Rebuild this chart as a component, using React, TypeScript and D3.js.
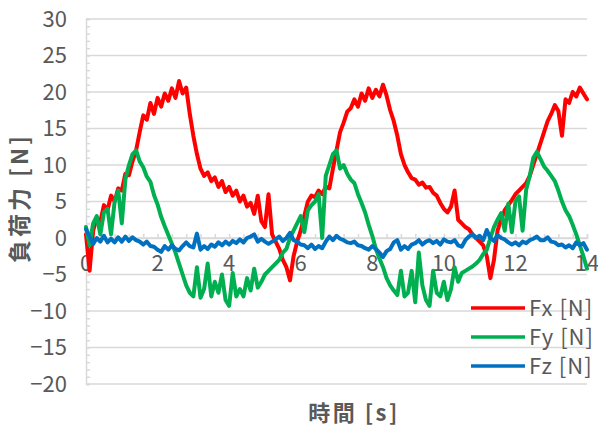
import { useRef, useEffect } from "react";
import * as d3 from "d3";

// sampled every 0.1 s, from 0 to 14 s
const step = 0.1;

const fx = [
  0.5, -4.5, 1.0, 2.8, 2.2, 4.5, 3.8, 5.8, 5.0, 6.8,
  6.5, 8.8, 8.6, 10.5, 12.0, 14.5, 16.8, 16.2, 18.5, 17.0,
  19.2, 18.0, 19.8, 18.8, 20.5, 19.2, 21.5, 19.8, 20.6, 17.0,
  14.0, 11.5, 9.5, 8.5, 9.0, 7.8, 8.3, 7.0, 7.8, 6.3,
  7.0, 5.8, 6.5, 5.0, 5.8, 4.3, 4.8, 3.3, 5.8, 2.3,
  1.5, 6.0, 0.5, -0.5, -1.5, -3.0, -4.0, -5.8, -2.5, -0.5,
  1.0, 3.0, 5.0, 5.8, 5.6, 6.5, 6.0, 7.0, 6.8, 9.5,
  12.0, 14.5, 15.8, 17.3, 17.8, 19.0, 18.0, 19.8, 18.8, 20.5,
  19.2, 20.3, 19.4, 21.0, 19.5, 17.5, 16.0, 14.0, 11.5, 10.0,
  9.0, 8.2, 8.0, 7.3, 7.6, 6.9, 7.0, 6.2, 5.8, 4.8,
  4.0, 3.5, 4.3, 6.5, 2.5, 2.0, 1.5, 1.2, 0.5, 0.0,
  -0.5, -1.0, -2.5, -5.5, -3.0, 1.0, 2.5, 3.8, 4.5, 5.2,
  6.0, 6.5, 7.0, 7.5, 8.5, 10.0, 11.5, 13.0, 14.5, 16.0,
  17.0, 18.2, 17.4, 14.0, 19.0, 18.5, 20.0, 19.4, 20.6, 19.8,
  19.0,
];

const fy = [
  1.5, -1.0, 2.0, 3.0, 0.5, 3.5, 4.0, 0.5, 5.0, 6.5,
  2.0, 8.0, 10.0, 11.5, 12.0, 10.5, 9.7, 8.4, 7.7, 5.9,
  4.6, 2.9, 1.6, 0.4, -0.8, -2.0, -3.5, -5.0, -6.5, -7.5,
  -8.0, -4.0, -8.2, -7.0, -3.5, -8.0, -6.0, -7.5, -5.0, -8.5,
  -9.3, -4.8, -8.0, -7.0, -8.0, -5.5, -7.2, -4.2, -6.8, -6.0,
  -5.0, -4.5, -4.0, -3.5, -3.0, -2.0, -1.5, 0.0, 1.0, 2.0,
  3.0, 0.8, 3.8, 4.5, 5.0, 6.0, 0.0, 8.5, 10.0, 11.5,
  12.0, 9.5, 10.0, 8.8, 8.0, 7.5, 6.0, 4.8, 3.5, 1.8,
  0.3, -1.5, -2.8, -4.0, -5.5, -6.5, -7.2, -7.8, -4.5, -8.0,
  -7.5, -4.5, -8.8, -2.0, -6.5, -8.5, -9.3, -4.5, -7.5, -8.0,
  -6.0, -8.5, -7.0, -4.0, -6.0, -4.8, -4.5, -4.2, -3.9, -3.5,
  -3.0, -2.2, -1.6, 0.0, 1.5, 2.5, 3.4, 1.0, 4.7, 0.8,
  5.0, 5.7, 1.0, 6.6, 8.5, 11.0, 11.8, 10.8, 9.8, 9.2,
  8.5, 7.8, 6.5, 5.0, 3.8, 3.0, 1.8, 0.5, -1.0, -2.5,
  -4.2,
];

const fz = [
  1.2, 0.2, -0.8, 0.0, -0.5, 0.3, -0.6, -0.1, -0.6, 0.1,
  -0.5, 0.2, -0.4, 0.1, -0.3, -0.5, -0.9, -0.5, -1.1, -1.2,
  -1.6, -1.9, -1.1, -1.6, -1.0, -1.5, -1.7, -1.1, -0.6, -1.1,
  -1.3, 0.6, -1.6, -1.1, -1.5, -0.9, -1.2, -0.6, -1.0, -0.5,
  -0.9, -0.4, -0.7, -0.2, -0.6, 0.0, 0.2, 0.5, -0.5, -0.1,
  -0.5, -0.8, -0.5, -0.2, 0.2, -0.4, 0.0, 0.7, -0.3, -0.5,
  -0.9, -1.0, -1.4, -0.9, -1.5, -1.1, -1.4, -0.5, 0.2, -0.3,
  0.3, -0.1, -0.3, -0.6, -0.7, -0.5, -1.0, -1.1, -1.4, -1.6,
  -1.1, -1.5, -2.0, -2.6, -1.8, -1.5, -0.6, -0.3, -1.6, -1.1,
  -1.5, -0.9, -0.7, -0.3, -0.9, -0.5, -0.3, -0.7, -0.4, -0.9,
  -0.2, -0.5, -0.6, -0.3, -1.0, -1.2, -0.3, 0.2, 0.5, 0.0,
  0.3, -0.3, 1.1, 0.0, -0.4, 0.4, 0.0, -0.2, -0.6, -0.9,
  -0.6, -1.0, -0.5, -0.7, -0.3, -0.1, 0.2, -0.3, -0.3, 0.1,
  -0.5, -0.6, -1.0, -0.9, -1.3, -1.0, -1.4, -0.6, -1.0, -0.7,
  -1.6,
];

const seriesNames = ["Fx [N]", "Fy [N]", "Fz [N]"];
const seriesColors = ["#ff0000", "#00b050", "#0070c0"];
const yTicks = [-20, -15, -10, -5, 0, 5, 10, 15, 20, 25, 30];
const xTicks = [0, 2, 4, 6, 8, 10, 12, 14];

function App() {
  const ref = useRef(null);

  useEffect(() => {
    const svg = d3.select(ref.current);
    svg.selectAll("*").remove();

    const font = "'Noto Sans CJK JP', 'Noto Sans', sans-serif";
    const textColor = "#595959";
    const gridColor = "#d9d9d9";

    const x = d3.scaleLinear().domain([0, 14]).range([86, 587]);
    const y = d3.scaleLinear().domain([-20, 30]).range([384, 19]);

    // horizontal gridlines
    svg
      .append("g")
      .selectAll("line")
      .data(yTicks)
      .join("line")
      .attr("x1", x(0))
      .attr("x2", x(14))
      .attr("y1", (d) => y(d))
      .attr("y2", (d) => y(d))
      .attr("stroke", gridColor)
      .attr("stroke-width", 1.5);

    // y axis with minor ticks every 1
    const yAxis = d3
      .axisRight(y)
      .ticks(50)
      .tickSize(4)
      .tickFormat(() => "");
    const gy = svg
      .append("g")
      .attr("transform", `translate(${x(0)},0)`)
      .call(yAxis);
    gy.select(".domain").attr("stroke", gridColor).attr("stroke-width", 1.5);
    gy.selectAll(".tick line").attr("stroke", gridColor).attr("stroke-width", 1.5);

    // x axis on the zero line, minor ticks every 0.4
    const xAxis = d3
      .axisTop(x)
      .tickValues(d3.range(0, 14.01, 0.4))
      .tickSize(4)
      .tickFormat(() => "");
    const gx = svg
      .append("g")
      .attr("transform", `translate(0,${y(0)})`)
      .call(xAxis);
    gx.select(".domain").attr("stroke", gridColor).attr("stroke-width", 1.5);
    gx.selectAll(".tick line").attr("stroke", gridColor).attr("stroke-width", 1.5);

    // tick labels
    svg
      .append("g")
      .selectAll("text")
      .data(yTicks)
      .join("text")
      .attr("x", 67)
      .attr("y", (d) => y(d))
      .attr("dy", "0.35em")
      .attr("text-anchor", "end")
      .attr("font-family", font)
      .attr("font-size", 22)
      .attr("fill", textColor)
      .text((d) => (d < 0 ? `−${-d}` : `${d}`));

    svg
      .append("g")
      .selectAll("text")
      .data(xTicks)
      .join("text")
      .attr("x", (d) => x(d))
      .attr("y", y(0) + 25)
      .attr("dy", "0.35em")
      .attr("text-anchor", "middle")
      .attr("font-family", font)
      .attr("font-size", 22)
      .attr("fill", textColor)
      .text((d) => d);

    // series
    const line = d3
      .line()
      .x((d, i) => x(i * step))
      .y((d) => y(d));

    [fx, fy, fz].forEach((s, k) => {
      svg
        .append("path")
        .datum(s)
        .attr("d", line)
        .attr("fill", "none")
        .attr("stroke", seriesColors[k])
        .attr("stroke-width", 4)
        .attr("stroke-linejoin", "round")
        .attr("stroke-linecap", "round");
    });

    // legend
    const lg = svg
      .append("g")
      .selectAll("g")
      .data(seriesNames)
      .join("g")
      .attr("transform", (d, i) => `translate(471,${308 + i * 29})`);
    lg.append("line")
      .attr("x1", 0)
      .attr("x2", 54)
      .attr("stroke", (d, i) => seriesColors[i])
      .attr("stroke-width", 3.5);
    lg.append("text")
      .attr("x", 58)
      .attr("dy", "0.35em")
      .attr("font-family", font)
      .attr("font-size", 22)
      .attr("letter-spacing", 1)
      .attr("fill", textColor)
      .text((d) => d);

    // axis titles
    svg
      .append("text")
      .attr("x", 354)
      .attr("y", 413)
      .attr("dy", "0.35em")
      .attr("text-anchor", "middle")
      .attr("font-family", font)
      .attr("font-size", 22)
      .attr("letter-spacing", 2.5)
      .attr("font-weight", "bold")
      .attr("fill", textColor)
      .text("時間 [s]");

    svg
      .append("text")
      .attr("transform", "translate(20,198) rotate(-90)")
      .attr("dy", "0.35em")
      .attr("text-anchor", "middle")
      .attr("font-family", font)
      .attr("font-size", 23)
      .attr("letter-spacing", 3)
      .attr("font-weight", "bold")
      .attr("fill", textColor)
      .text("負荷力 [N]");
  }, []);

  return (
    <svg
      ref={ref}
      width={598}
      height={427}
      style={{ position: "absolute", left: 0, top: 0, background: "#fff" }}
    />
  );
}

export default App;
